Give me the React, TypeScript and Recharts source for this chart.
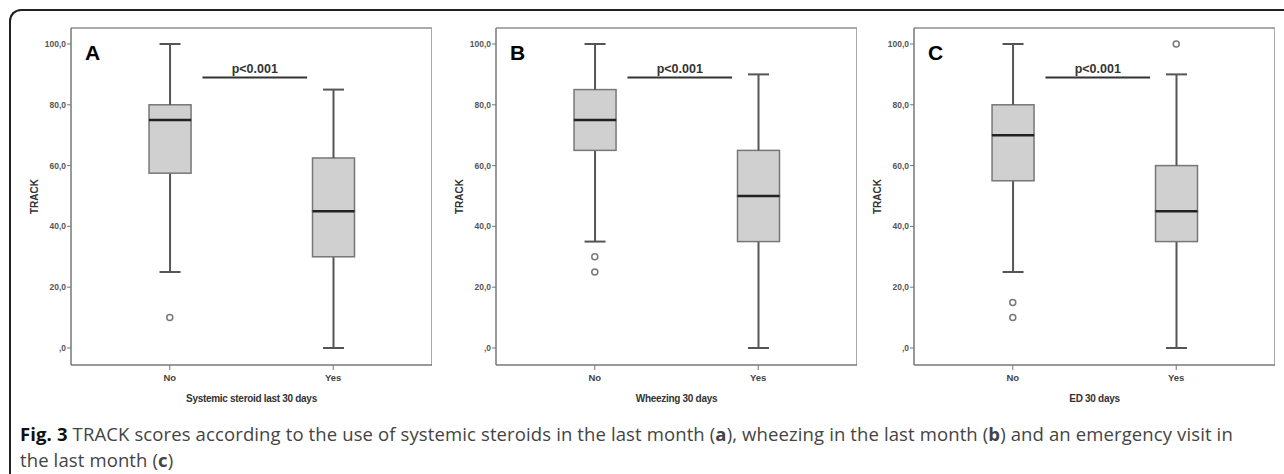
import React from 'react';
import { ComposedChart, Bar, Line, XAxis, YAxis, ReferenceLine } from 'recharts';

const categories = ['No', 'Yes'];
const yTicks = [0, 20, 40, 60, 80, 100];

// A: systemic steroid last 30 days
const steroidMin = [25, 0];
const steroidQ1 = [57.5, 30];
const steroidMedian = [75, 45];
const steroidQ3 = [80, 62.5];
const steroidMax = [100, 85];
const steroidOutliers = [[10], []];

// B: wheezing 30 days
const wheezeMin = [35, 0];
const wheezeQ1 = [65, 35];
const wheezeMedian = [75, 50];
const wheezeQ3 = [85, 65];
const wheezeMax = [100, 90];
const wheezeOutliers = [[30, 25], []];

// C: ED 30 days
const edMin = [25, 0];
const edQ1 = [55, 35];
const edMedian = [70, 45];
const edQ3 = [80, 60];
const edMax = [100, 90];
const edOutliers = [[15, 10], [100]];

const pLabel = 'p<0.001';
const pLevel = 89;

// x positions: No = 1, Yes = 2
const X_DOMAIN: [number, number] = [0.3957, 2.6043];
const Y_DOMAIN: [number, number] = [-5.6, 105.26];

const buildRows = (
  min: number[], q1: number[], med: number[], q3: number[], max: number[], outliers: number[][]
) =>
  categories.map((cat, i) => ({
    cat,
    pos: i + 1,
    base: min[i],
    lowWhisker: q1[i] - min[i],
    lowBox: med[i] - q1[i],
    highBox: q3[i] - med[i],
    highWhisker: max[i] - q3[i],
    o1: outliers[i][0],
    o2: outliers[i][1],
  }));

const panels = [
  { letter: 'A', title: 'Systemic steroid last 30 days', left: 11, rows: buildRows(steroidMin, steroidQ1, steroidMedian, steroidQ3, steroidMax, steroidOutliers) },
  { letter: 'B', title: 'Wheezing 30 days', left: 436, rows: buildRows(wheezeMin, wheezeQ1, wheezeMedian, wheezeQ3, wheezeMax, wheezeOutliers) },
  { letter: 'C', title: 'ED 30 days', left: 854, rows: buildRows(edMin, edQ1, edMedian, edQ3, edMax, edOutliers) },
];

const WHISKER = '#555';
const AXIS = '#777';
const axisFont = "'Liberation Sans', Arial, sans-serif";

const LowWhisker = (props: any) => {
  const { x, y, width, height } = props;
  const cx = x + width / 2;
  const bottom = y + height;
  return (
    <g>
      <line x1={cx} y1={y} x2={cx} y2={bottom} stroke={WHISKER} strokeWidth={2} />
      <line x1={cx - width / 4} y1={bottom} x2={cx + width / 4} y2={bottom} stroke={WHISKER} strokeWidth={2} />
    </g>
  );
};

const HighWhisker = (props: any) => {
  const { x, y, width, height } = props;
  const cx = x + width / 2;
  return (
    <g>
      <line x1={cx} y1={y} x2={cx} y2={y + height} stroke={WHISKER} strokeWidth={2} />
      <line x1={cx - width / 4} y1={y} x2={cx + width / 4} y2={y} stroke={WHISKER} strokeWidth={2} />
    </g>
  );
};

const LowBox = (props: any) => {
  const { x, y, width, height } = props;
  return <rect x={x} y={y} width={width} height={height} fill="#d0d0d0" stroke="#777" strokeWidth={1.5} />;
};

const HighBox = (props: any) => {
  const { x, y, width, height } = props;
  return (
    <g>
      <rect x={x} y={y} width={width} height={height} fill="#d0d0d0" stroke="#777" strokeWidth={1.5} />
      <line x1={x} y1={y + height} x2={x + width} y2={y + height} stroke="#222" strokeWidth={2.5} />
    </g>
  );
};

const fmt = (v: number) => (v === 0 ? ',0' : v.toFixed(1).replace('.', ','));

const Panel = ({ panel }: { panel: (typeof panels)[number] }) => (
  <div style={{ position: 'absolute', left: panel.left, top: 0 }}>
    <ComposedChart
      width={421}
      height={415}
      data={panel.rows}
      margin={{ top: 28, right: 0, left: 0, bottom: 0 }}
    >
      <XAxis
        dataKey="pos"
        type="number"
        domain={X_DOMAIN}
        allowDataOverflow
        ticks={[1, 2]}
        tickFormatter={(v: number) => categories[v - 1]}
        height={50}
        axisLine={{ stroke: AXIS, strokeWidth: 1.5 }}
        tickLine={{ stroke: AXIS }}
        tickSize={5}
        tickMargin={4}
        tick={{ fontSize: 9.5, fontWeight: 'bold', fill: '#444', fontFamily: axisFont }}
        label={{
          content: (p: any) => (
            <text
              x={p.viewBox.x + p.viewBox.width / 2}
              y={p.viewBox.y + 37}
              textAnchor="middle"
              fontSize={10}
              fontWeight="bold"
              letterSpacing={-0.3}
              fill="#333"
              fontFamily={axisFont}
            >
              {panel.title}
            </text>
          ),
        }}
      />
      <YAxis
        type="number"
        domain={Y_DOMAIN}
        allowDataOverflow
        ticks={yTicks}
        tickFormatter={fmt}
        width={60}
        axisLine={{ stroke: AXIS, strokeWidth: 1.5 }}
        tickLine={{ stroke: AXIS }}
        tickSize={4}
        tickMargin={1}
        tick={{ fontSize: 8.5, fontWeight: 'bold', fill: '#555', fontFamily: axisFont }}
        label={{
          content: (p: any) => {
            const lx = p.viewBox.x + p.viewBox.width - 37;
            const ly = p.viewBox.y + p.viewBox.height / 2;
            return (
              <text
                x={lx}
                y={ly}
                transform={`rotate(-90 ${lx} ${ly})`}
                textAnchor="middle"
                dominantBaseline="central"
                fontSize={10}
                fontWeight="bold"
                fill="#333"
                fontFamily={axisFont}
              >
                TRACK
              </text>
            );
          },
        }}
      />
      {/* top and right edges of the plot frame */}
      <ReferenceLine y={Y_DOMAIN[1]} stroke="#aaa" strokeWidth={2} ifOverflow="visible" />
      <ReferenceLine x={X_DOMAIN[1]} stroke="#aaa" strokeWidth={2} ifOverflow="visible" />
      <Bar dataKey="base" stackId="box" fill="transparent" barSize={42} isAnimationActive={false} />
      <Bar dataKey="lowWhisker" stackId="box" shape={LowWhisker} barSize={42} isAnimationActive={false} />
      <Bar dataKey="lowBox" stackId="box" shape={LowBox} barSize={42} isAnimationActive={false} />
      <Bar dataKey="highBox" stackId="box" shape={HighBox} barSize={42} isAnimationActive={false} />
      <Bar dataKey="highWhisker" stackId="box" shape={HighWhisker} barSize={42} isAnimationActive={false} />
      <Line dataKey="o1" stroke="none" dot={{ r: 3, fill: '#fff', stroke: '#777', strokeWidth: 1.5 }} isAnimationActive={false} />
      <Line dataKey="o2" stroke="none" dot={{ r: 3, fill: '#fff', stroke: '#777', strokeWidth: 1.5 }} isAnimationActive={false} />
      <ReferenceLine
        segment={[{ x: 1.2, y: pLevel }, { x: 1.84, y: pLevel }]}
        stroke="#333"
        strokeWidth={2}
        ifOverflow="visible"
        label={{ value: pLabel, position: 'top', offset: 4, fontSize: 12.5, fontWeight: 'bold', fill: '#333', fontFamily: axisFont }}
      />
    </ComposedChart>
    <div
      style={{
        position: 'absolute',
        left: 74,
        top: 42,
        fontSize: 21,
        lineHeight: '21px',
        fontWeight: 'bold',
        fontFamily: axisFont,
        color: '#000',
      }}
    >
      {panel.letter}
    </div>
  </div>
);

export default function App() {
  return (
    <div style={{ position: 'absolute', left: 0, top: 0, width: 1284, height: 474, overflow: 'hidden', background: '#fff' }}>
      <div
        style={{
          position: 'absolute',
          left: 9,
          top: 9,
          width: 1300,
          height: 500,
          borderTop: '2px solid #222',
          borderLeft: '2px solid #222',
          borderTopLeftRadius: 12,
        }}
      />
      {panels.map((p) => (
        <Panel key={p.letter} panel={p} />
      ))}
      <div
        style={{
          position: 'absolute',
          left: 20,
          top: 421,
          width: 1260,
          whiteSpace: 'nowrap',
          fontFamily: "'Open Sans', sans-serif",
          fontSize: 18.5,
          letterSpacing: 0.12,
          lineHeight: '25.5px',
          color: '#444',
        }}
      >
        <b style={{ color: '#111' }}>Fig. 3</b> TRACK scores according to the use of systemic steroids in the last month (<b>a</b>), wheezing in the last month (<b>b</b>) and an emergency visit in
        <br />
        the last month (<b>c</b>)
      </div>
    </div>
  );
}
